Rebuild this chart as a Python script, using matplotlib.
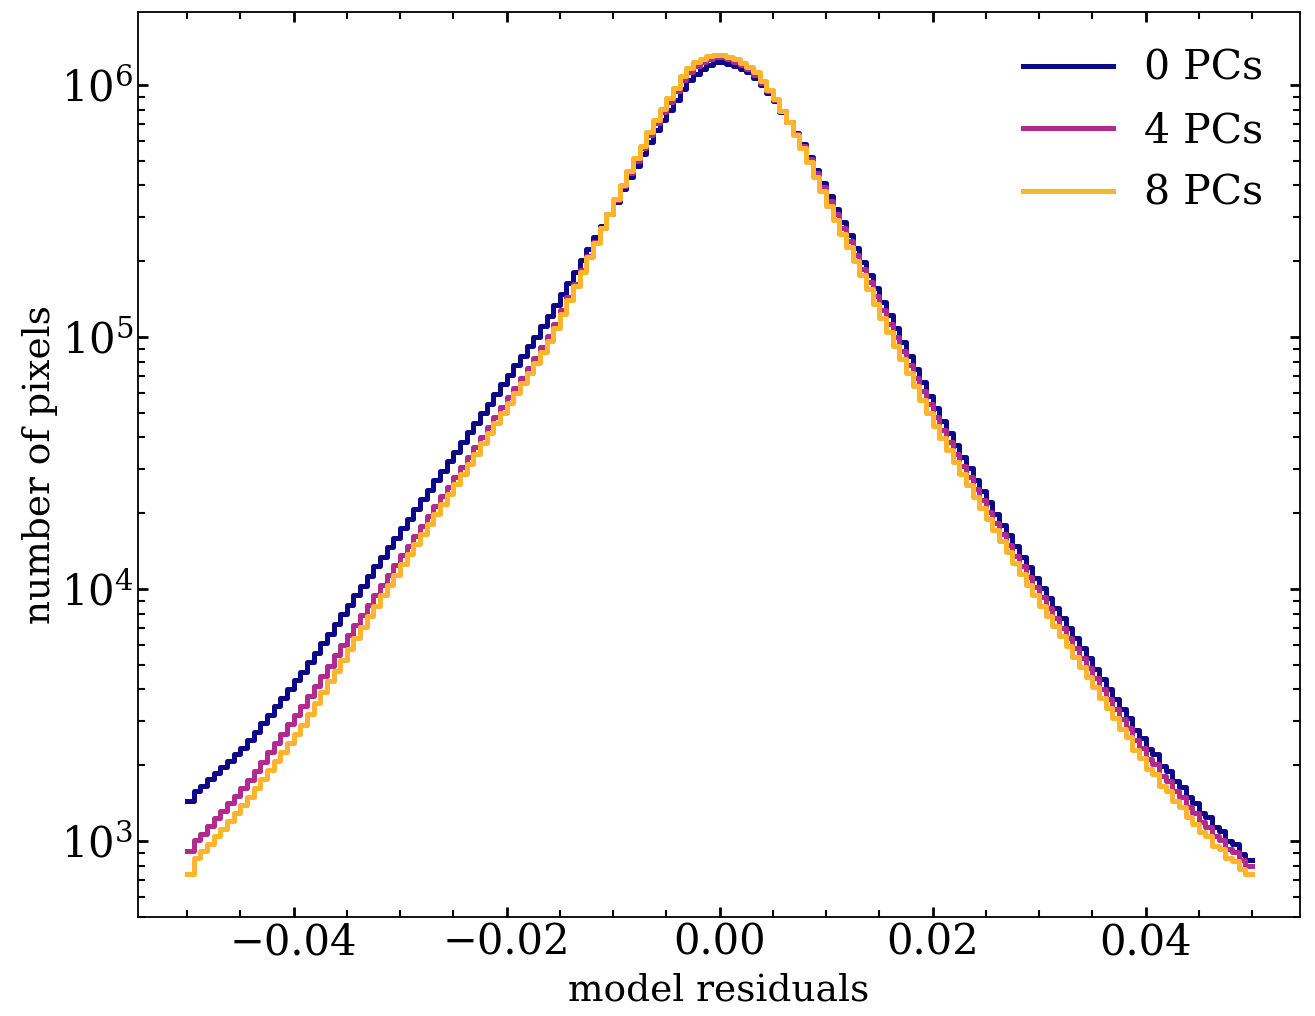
import numpy as np
import matplotlib
matplotlib.use("Agg")
import matplotlib.pyplot as plt
from matplotlib.ticker import MultipleLocator

# histogram of model residuals, 160 bins between -0.05 and 0.05
# values are log10(number of pixels) per bin
bin_lo, bin_hi, n_bins = -0.05, 0.05, 160

log_counts_0pc = [
    3.160, 3.200, 3.220, 3.245, 3.270, 3.295, 3.320, 3.345, 3.370, 3.400,
    3.434, 3.468, 3.502, 3.536, 3.570, 3.604, 3.638, 3.672, 3.710, 3.748,
    3.786, 3.824, 3.862, 3.900, 3.938, 3.976, 4.014, 4.052, 4.090, 4.128,
    4.166, 4.204, 4.242, 4.280, 4.318, 4.356, 4.394, 4.432, 4.470, 4.508,
    4.546, 4.584, 4.622, 4.660, 4.698, 4.736, 4.774, 4.812, 4.850, 4.888,
    4.926, 4.964, 5.002, 5.043, 5.085, 5.128, 5.172, 5.216, 5.260, 5.305,
    5.350, 5.396, 5.442, 5.490, 5.538, 5.586, 5.634, 5.680, 5.725, 5.775,
    5.820, 5.860, 5.900, 5.940, 5.985, 6.020, 6.045, 6.065, 6.080, 6.090,
    6.090, 6.085, 6.077, 6.065, 6.050, 6.030, 6.000, 5.970, 5.935, 5.895,
    5.855, 5.810, 5.765, 5.715, 5.665, 5.613, 5.561, 5.509, 5.457, 5.405,
    5.353, 5.300, 5.247, 5.194, 5.141, 5.088, 5.035, 4.980, 4.926, 4.873,
    4.820, 4.768, 4.717, 4.668, 4.620, 4.572, 4.525, 4.479, 4.433, 4.388,
    4.344, 4.300, 4.256, 4.213, 4.170, 4.128, 4.086, 4.045, 4.005, 3.965,
    3.925, 3.885, 3.845, 3.805, 3.765, 3.725, 3.685, 3.645, 3.605, 3.565,
    3.525, 3.490, 3.440, 3.410, 3.365, 3.345, 3.300, 3.280, 3.240, 3.215,
    3.175, 3.150, 3.110, 3.095, 3.055, 3.040, 3.000, 2.990, 2.950, 2.925,
]

log_counts_4pc = [
    2.960, 3.005, 3.030, 3.060, 3.090, 3.120, 3.150, 3.180, 3.210, 3.243,
    3.279, 3.316, 3.353, 3.390, 3.427, 3.464, 3.501, 3.537, 3.577, 3.617,
    3.657, 3.697, 3.737, 3.777, 3.817, 3.857, 3.897, 3.937, 3.977, 4.017,
    4.056, 4.095, 4.134, 4.173, 4.212, 4.251, 4.290, 4.329, 4.368, 4.407,
    4.446, 4.485, 4.525, 4.564, 4.603, 4.643, 4.682, 4.721, 4.761, 4.800,
    4.839, 4.879, 4.918, 4.961, 5.005, 5.053, 5.106, 5.159, 5.212, 5.267,
    5.322, 5.378, 5.434, 5.490, 5.544, 5.598, 5.650, 5.700, 5.749, 5.802,
    5.850, 5.892, 5.934, 5.975, 6.020, 6.053, 6.075, 6.092, 6.104, 6.110,
    6.110, 6.103, 6.093, 6.079, 6.062, 6.040, 6.008, 5.976, 5.939, 5.897,
    5.855, 5.807, 5.758, 5.705, 5.652, 5.596, 5.541, 5.487, 5.434, 5.380,
    5.326, 5.272, 5.217, 5.163, 5.109, 5.054, 5.000, 4.945, 4.891, 4.838,
    4.785, 4.733, 4.682, 4.633, 4.584, 4.536, 4.489, 4.443, 4.397, 4.352,
    4.307, 4.263, 4.219, 4.176, 4.133, 4.090, 4.048, 4.007, 3.967, 3.927,
    3.887, 3.846, 3.806, 3.766, 3.726, 3.686, 3.646, 3.605, 3.565, 3.525,
    3.485, 3.450, 3.400, 3.370, 3.325, 3.305, 3.260, 3.240, 3.200, 3.175,
    3.135, 3.110, 3.075, 3.058, 3.020, 3.005, 2.970, 2.958, 2.925, 2.903,
]

log_counts_8pc = [
    2.870, 2.935, 2.960, 2.990, 3.020, 3.050, 3.080, 3.110, 3.142, 3.176,
    3.211, 3.247, 3.282, 3.318, 3.354, 3.390, 3.426, 3.462, 3.505, 3.548,
    3.591, 3.634, 3.677, 3.720, 3.763, 3.806, 3.849, 3.892, 3.935, 3.978,
    4.018, 4.058, 4.098, 4.138, 4.178, 4.218, 4.258, 4.298, 4.338, 4.378,
    4.418, 4.458, 4.498, 4.538, 4.578, 4.618, 4.658, 4.698, 4.738, 4.778,
    4.818, 4.858, 4.898, 4.941, 4.985, 5.038, 5.092, 5.146, 5.202, 5.259,
    5.316, 5.374, 5.432, 5.490, 5.548, 5.604, 5.659, 5.710, 5.760, 5.813,
    5.862, 5.905, 5.948, 5.990, 6.035, 6.068, 6.090, 6.105, 6.115, 6.120,
    6.120, 6.113, 6.103, 6.089, 6.072, 6.050, 6.016, 5.982, 5.943, 5.899,
    5.855, 5.803, 5.751, 5.694, 5.637, 5.579, 5.521, 5.466, 5.411, 5.356,
    5.301, 5.245, 5.189, 5.133, 5.077, 5.021, 4.965, 4.912, 4.858, 4.805,
    4.752, 4.700, 4.649, 4.600, 4.552, 4.504, 4.457, 4.412, 4.366, 4.322,
    4.278, 4.235, 4.190, 4.146, 4.103, 4.060, 4.017, 3.976, 3.935, 3.895,
    3.854, 3.813, 3.773, 3.732, 3.691, 3.651, 3.610, 3.569, 3.529, 3.488,
    3.447, 3.412, 3.360, 3.330, 3.285, 3.265, 3.220, 3.200, 3.160, 3.135,
    3.095, 3.070, 3.035, 3.020, 2.982, 2.968, 2.932, 2.920, 2.888, 2.868,
]

labels = ["0 PCs", "4 PCs", "8 PCs"]
colors = ["#0d0887", "#b12a90", "#fdb42f"]

plt.rcParams["font.family"] = "DejaVu Serif"
plt.rcParams["mathtext.fontset"] = "dejavuserif"

edges = np.linspace(bin_lo, bin_hi, n_bins + 1)

fig = plt.figure(figsize=(13.15, 10.16), dpi=100)
ax = fig.add_axes([0.105, 0.0974, 0.8836, 0.8908])

for logc, lab, col in zip([log_counts_0pc, log_counts_4pc, log_counts_8pc], labels, colors):
    counts = 10 ** np.array(logc)
    ax.step(edges, np.append(counts, counts[-1]), where="post", color=col, lw=3.6, label=lab)

ax.set_yscale("log")
ax.set_xlim(-0.0546, 0.0545)
ax.set_ylim(500, 1.95e6)
ax.xaxis.set_major_locator(MultipleLocator(0.02))
ax.xaxis.set_minor_locator(MultipleLocator(0.005))

ax.tick_params(which="both", direction="in", top=True, right=True, labelsize=30)
ax.tick_params(which="major", length=7, width=2)
ax.tick_params(which="minor", length=5, width=1.5)
for sp in ax.spines.values():
    sp.set_linewidth(1.3)

ax.set_xlabel("model residuals", fontsize=27, labelpad=6)
ax.set_ylabel("number of pixels", fontsize=27, labelpad=2)

ax.legend(loc="upper right", fontsize=29.5, frameon=False, handlelength=2.2,
          labelspacing=0.55, handletextpad=0.75, borderaxespad=0.5)

fig.savefig("out.png", dpi=100)
